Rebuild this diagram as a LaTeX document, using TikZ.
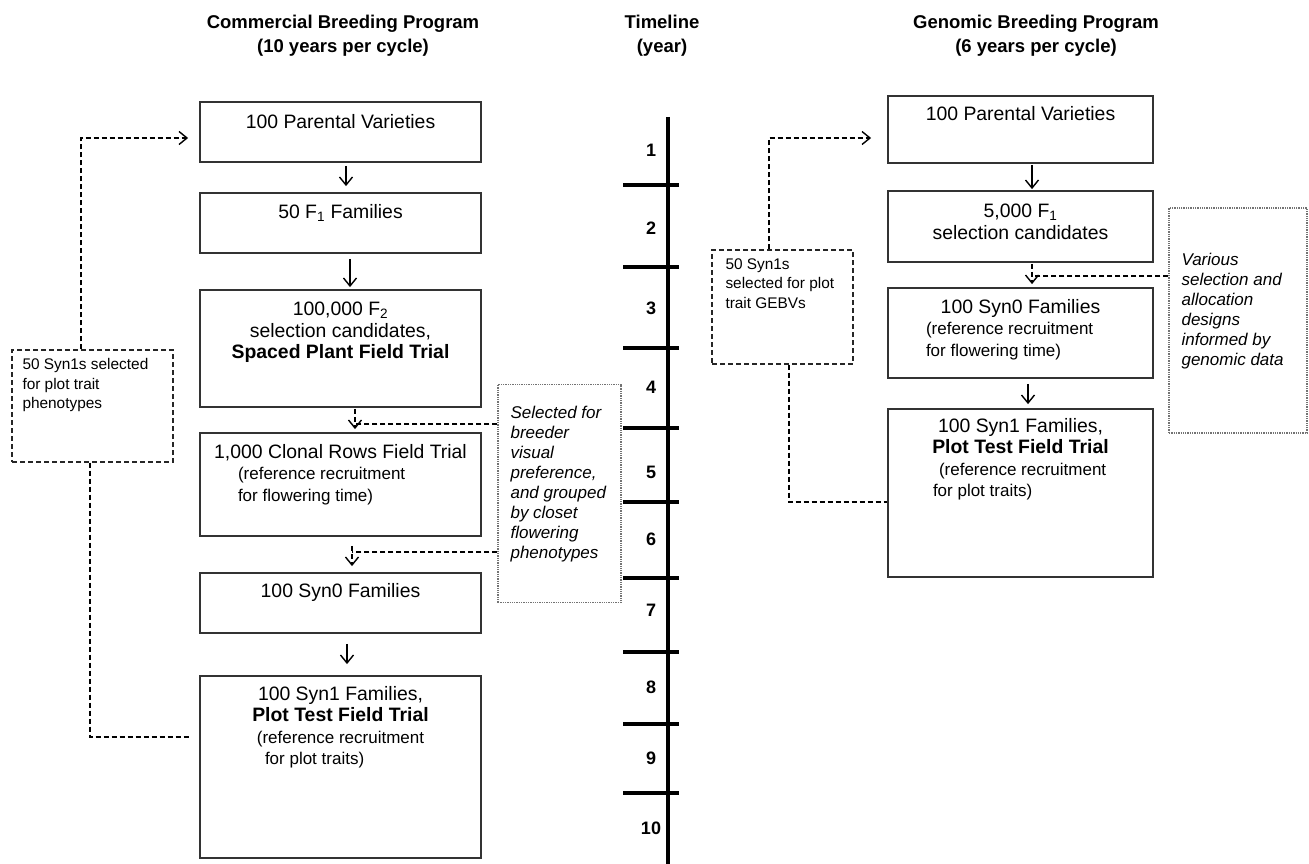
\documentclass[tikz,border=0pt]{standalone}
\usepackage{fontspec}
\setmainfont{Liberation Sans}
\usetikzlibrary{arrows.meta,positioning,calc}

\newcommand{\indln}[2]{\makebox[#1][l]{#2}}
\newcommand{\subfnt}{\fontsize{17}{21}\selectfont}

\begin{document}
\begin{tikzpicture}[
  x=1pt, y=-1pt,
  stage/.style={draw=black!80, line width=1.8pt, minimum width=281pt, inner sep=0pt},
  gstage/.style={stage, minimum width=265pt},
  stagetxt/.style={font=\fontsize{19.4}{21.5}\selectfont, align=center, inner sep=0pt},
  selbox/.style={draw=black!85, line width=1.4pt, dash pattern=on 5pt off 3pt, inner sep=0pt},
  notebox/.style={draw=black!55, line width=1.3pt, densely dotted, inner sep=0pt},
  seltxt/.style={font=\fontsize{15.4}{19.5}\selectfont, align=left, inner sep=0pt},
  notetxt/.style={font=\fontsize{17}{20}\selectfont\itshape, align=left, inner sep=0pt},
  link/.style={line width=1.4pt, dash pattern=on 5pt off 3pt},
  flow/.style={line width=1.4pt, ->},
  title/.style={font=\fontsize{18.5}{24}\selectfont\bfseries, align=center},
  year/.style={font=\fontsize{18}{18}\selectfont\bfseries},
  >={Straight Barb[length=8pt,width=13pt]}
]
\useasboundingbox (0,0) rectangle (1309,864);

% headings
\node[title] (cbp) at (343,36) {Commercial Breeding Program\\(10 years per cycle)};
\node[title] (tlh) at (662,36) {Timeline\\(year)};
\node[title] (gbp) at (1036,36) {Genomic Breeding Program\\(6 years per cycle)};

% timeline
\coordinate (tltop) at (668,117);
\coordinate (tlbot) at (668,864);
\draw[line width=3.2pt] (tltop) -- (tlbot);
\foreach \ty [count=\i] in {185,267,348,428,502,578,652,724,793}
  \draw[line width=3.2pt] (623,\ty) coordinate (tk\i) -- (679,\ty);
\foreach \yy [count=\n] in {150,228,308,387,472,539,610,687,758,828}
  \node[year] (yr\n) at (651,\yy) {\n};

% commercial program
\node[stage, minimum height=60pt]  (cp1) at (340.5,132) {};
\node[stage, minimum height=60pt]  (cp2) at (340.5,223) {};
\node[stage, minimum height=117pt] (cp3) at (340.5,348.5) {};
\node[stage, minimum height=103pt] (cp4) at (340.5,484.5) {};
\node[stage, minimum height=60pt]  (cp5) at (340.5,603) {};
\node[stage, minimum height=182pt] (cp6) at (340.5,767) {};

\node[stagetxt, below=13pt of cp1.north] (cp1t) {100 Parental Varieties};
\node[stagetxt, below=12pt of cp2.north] (cp2t) {50 F\textsubscript{1} Families};
\node[stagetxt, below=13pt of cp3.north] (cp3t) {100,000 F\textsubscript{2}\\selection candidates,\\\textbf{Spaced Plant Field Trial}};
\node[stagetxt, below=12pt of cp4.north] (cp4t) {1,000 Clonal Rows Field Trial\\
  \indln{205pt}{\subfnt(reference recruitment}\\\indln{205pt}{\subfnt for flowering time)}};
\node[stagetxt, below=11pt of cp5.north] (cp5t) {100 Syn0 Families};
\node[stagetxt, below=11pt of cp6.north] (cp6t) {100 Syn1 Families,\\\textbf{Plot Test Field Trial}\\
  {\subfnt(reference recruitment}\\\indln{151pt}{\subfnt for plot traits)}};

% genomic program
\node[gstage, minimum height=67pt]  (rp1) at (1020.5,129.5) {};
\node[gstage, minimum height=71pt]  (rp2) at (1020.5,226.5) {};
\node[gstage, minimum height=90pt]  (rp3) at (1020.5,333) {};
\node[gstage, minimum height=168pt] (rp4) at (1020.5,493) {};

\node[stagetxt, below=11pt of rp1.north] (rp1t) {100 Parental Varieties};
\node[stagetxt, below=14pt of rp2.north] (rp2t) {5,000 F\textsubscript{1}\\selection candidates};
\node[stagetxt, below=12pt of rp3.north] (rp3t) {100 Syn0 Families\\
  \indln{189pt}{\subfnt(reference recruitment}\\\indln{189pt}{\subfnt for flowering time)}};
\node[stagetxt, below=10pt of rp4.north] (rp4t) {100 Syn1 Families,\\\textbf{Plot Test Field Trial}\\
  \indln{163pt}{\subfnt(reference recruitment}\\\indln{175pt}{\subfnt for plot traits)}};

% selection boxes and notes
\node[selbox, minimum width=161pt, minimum height=112pt] (lsel) at (92.5,406) {};
\node[seltxt, below right=9pt and 11pt of lsel.north west] (lselt) {50 Syn1s selected\\for plot trait\\phenotypes};
\node[selbox, minimum width=141pt, minimum height=114pt] (rsel) at (782.5,307) {};
\node[seltxt, below right=9pt and 14pt of rsel.north west] (rselt) {50 Syn1s\\selected for plot\\trait GEBVs};
\node[notebox, minimum width=123pt, minimum height=218pt] (selnote) at (559.5,493.5) {};
\node[notetxt, below right=22pt and 13pt of selnote.north west] (selnotet)
  {Selected for\\breeder\\visual\\preference,\\and grouped\\by closet\\flowering\\phenotypes};
\node[notebox, minimum width=138pt, minimum height=225pt] (gennote) at (1238,320.5) {};
\node[notetxt, below right=46pt and 13pt of gennote.north west] (gennotet)
  {Various\\selection and\\allocation\\designs\\informed by\\genomic data};

% main flow
\draw[flow, shorten <=3pt, shorten >=6pt] ($(cp1.south)+(5.5,0)$) -- ($(cp2.north)+(5.5,0)$);
\draw[flow, shorten <=5pt, shorten >=2pt] ($(cp2.south)+(9.5,0)$) -- ($(cp3.north)+(9.5,0)$);
\draw[flow, shorten <=10pt, shorten >=11pt] ($(cp5.south)+(6.5,0)$) -- ($(cp6.north)+(6.5,0)$);
\draw[flow, shorten <=1pt, shorten >=1pt] ($(rp1.south)+(11.5,0)$) -- ($(rp2.north)+(11.5,0)$);
\draw[flow, shorten <=5pt, shorten >=4pt] ($(rp3.south)+(7.5,0)$) -- ($(rp4.north)+(7.5,0)$);

% selection steps
\draw[link, ->, shorten <=1pt, shorten >=3pt] ($(cp3.south)+(14.5,0)$) -- ($(cp4.north)+(14.5,0)$);
\coordinate (cj1) at ($(cp4.north)+(14.5,-8)$);
\draw[link] (selnote.west |- cj1) -- (cj1);
\draw[link, ->, shorten <=9pt, shorten >=6pt] ($(cp4.south)+(11.5,0)$) -- ($(cp5.north)+(11.5,0)$);
\coordinate (cj2) at ($(cp5.north)+(11.5,-20)$);
\draw[link] (selnote.west |- cj2) -- (cj2);
\draw[link, ->, shorten <=1pt, shorten >=3pt] ($(rp2.south)+(11.5,0)$) -- ($(rp3.north)+(11.5,0)$);
\coordinate (gj1) at ($(rp3.north)+(11.5,-11)$);
\draw[link] (gennote.west |- gj1) -- (gj1);

% recurrent selection loops
\draw[link, ->] ($(lsel.north)+(-11.5,0)$) |- ($(cp1.west)+(-11,6)$);
\draw[link] ($(lsel.south)+(-2.5,0)$) |- ($(cp6.west)+(-10,-30)$);
\draw[link, ->] ($(rsel.north)+(-13.5,0)$) |- ($(rp1.west)+(-16,8.5)$);
\draw[link] ($(rsel.south)+(6.5,0)$) |- ($(rp4.west)+(0,9)$);
\end{tikzpicture}
\end{document}
